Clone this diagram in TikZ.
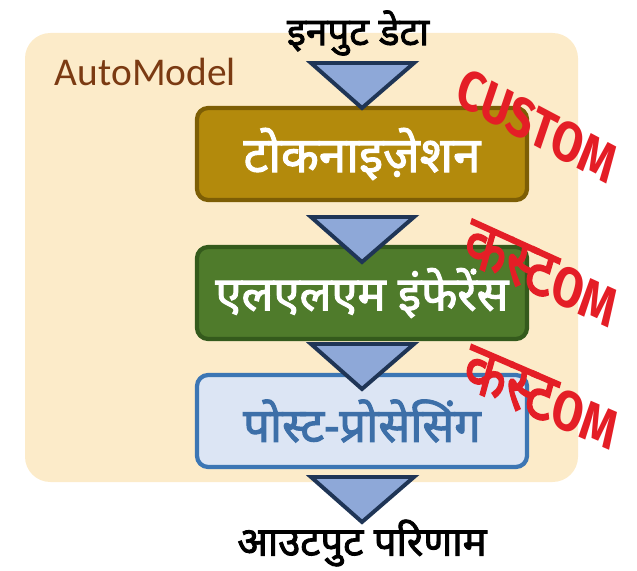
\documentclass[tikz,border=0pt]{standalone}
\usepackage{fontspec}
\setmainfont{Noto Sans}
\newfontfamily\deva[Script=Devanagari,FakeBold=2.2]{Noto Sans}
\newfontfamily\carlito{Carlito}
\newfontfamily\stampfont{Fira Sans}
\definecolor{panelbg}{HTML}{FCEBC9}
\definecolor{amodel}{HTML}{7B3A12}
\definecolor{tokfill}{HTML}{B38A0C}
\definecolor{tokline}{HTML}{7D5E05}
\definecolor{llmfill}{HTML}{4F7B2B}
\definecolor{llmline}{HTML}{345A1C}
\definecolor{postfill}{HTML}{DCE5F4}
\definecolor{postline}{HTML}{3C76B4}
\definecolor{posttext}{HTML}{3D6FA8}
\definecolor{trifill}{HTML}{8EA8D8}
\definecolor{triline}{HTML}{1F3556}
\definecolor{stampred}{HTML}{E41E26}
\tikzset{block/.style = {draw, rounded corners=8pt, line width=3pt, rectangle, minimum height=2.3cm, minimum width=8.25cm, font=\deva\fontsize{33.5}{36}\selectfont},
         label/.style = {font=\deva\fontsize{27.5}{30}\selectfont, text=black},
         stamp/.style = {text=stampred, font=\stampfont\bfseries\fontsize{40}{42}\selectfont, xscale=0.8}}
\newcommand{\stampdeva}{{\deva\fontsize{50}{50}\selectfont कस्ट}}

\begin{document}
\begin{tikzpicture}[x=0.025cm,y=-0.025cm,
        arrowtri/.style = {draw=triline, fill=trifill, line width=2.8pt, line join=miter}]
    \useasboundingbox(0,0)rectangle(637,571);
    \fill[panelbg,rounded corners=18pt](25,33)rectangle(578,482);
    \node[font=\carlito\fontsize{28}{32}\selectfont,text=amodel,anchor=west](am)at(50,72){AutoModel};

    \node[label](in)at(358,33){इनपुट डेटा};
    \node[block,fill=tokfill,draw=tokline,text=white,font=\deva\fontsize{35}{38}\selectfont](tok)at(362,154){टोकनाइज़ेशन};
    \node[block,fill=llmfill,draw=llmline,text=white](llm)at(362,293){एलएलएम इंफेरेंस};
    \node[block,fill=postfill,draw=postline,text=posttext](post)at(362,421){पोस्ट-प्रोसेसिंग};
    \node[label,font=\deva\fontsize{28.5}{31}\selectfont](out)at(362,543){आउटपुट परिणाम};

    % arrow heads between the stages
    \foreach \ty in {63,217,344,477}
        \draw[arrowtri](311,\ty)--(414,\ty)--(362,\ty+45)--cycle;

    % stamps
    \node[stamp,rotate=-23](s1)at(537,126){CUSTOM};
    \node[stamp,rotate=-20](s2)at(541,274){\stampdeva OM};
    \node[stamp,rotate=-19](s3)at(541,398){\stampdeva OM};
\end{tikzpicture}
\end{document}
